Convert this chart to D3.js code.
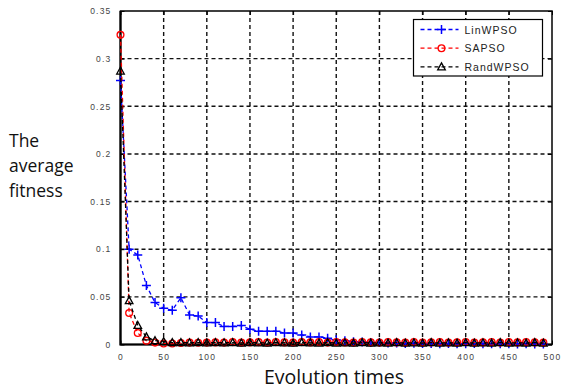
<!DOCTYPE html>
<html>
<head>
<meta charset="utf-8">
<script src="https://cdn.jsdelivr.net/npm/d3@7"></script>
<style>
  body { margin: 0; background: #fff; }
  svg { display: block; }
</style>
</head>
<body>
<svg id="chart" width="561" height="391"></svg>
<script>
const svg = d3.select("#chart");

// iterations (every 10th sample is plotted with a marker)
const iterations = d3.range(0, 500, 10);

const linWPSO = [0.277, 0.100, 0.094, 0.062, 0.044, 0.038, 0.036, 0.049, 0.031, 0.030,
                 0.023, 0.023, 0.019, 0.019, 0.020, 0.016, 0.014, 0.014, 0.014, 0.012,
                 0.012, 0.010, 0.008, 0.008, 0.0065, 0.005, 0.004, 0.003, 0.0025, 0.002,
                 0.002, 0.0015, 0.0015, 0.001, 0.0012, 0.001, 0.001, 0.0008, 0.001, 0.0008,
                 0.0008, 0.001, 0.0007, 0.0008, 0.0007, 0.0008, 0.0006, 0.0007, 0.0006, 0.0006];

const sapso = [0.325, 0.033, 0.012, 0.004, 0.002, 0.001, 0.001, 0.0015, 0.002, 0.0018,
               0.002, 0.0022, 0.002, 0.0025, 0.002, 0.0022, 0.0025, 0.002, 0.0025, 0.0022,
               0.002, 0.0025, 0.0022, 0.0025, 0.002, 0.0025, 0.0022, 0.002, 0.0025, 0.0022,
               0.002, 0.0025, 0.0022, 0.002, 0.0025, 0.002, 0.0022, 0.0025, 0.002, 0.0022,
               0.0025, 0.002, 0.0022, 0.0025, 0.002, 0.0025, 0.0022, 0.0025, 0.0022, 0.002];

const randWPSO = [0.287, 0.046, 0.020, 0.008, 0.004, 0.003, 0.002, 0.002, 0.0018, 0.002,
                  0.0018, 0.002, 0.0018, 0.002, 0.0015, 0.002, 0.0018, 0.0015, 0.002, 0.0018,
                  0.0015, 0.002, 0.0018, 0.0015, 0.002, 0.0015, 0.0018, 0.0015, 0.002, 0.0015,
                  0.0018, 0.0015, 0.002, 0.0015, 0.0018, 0.0015, 0.002, 0.0015, 0.0018, 0.0015,
                  0.002, 0.0015, 0.0018, 0.0015, 0.002, 0.0015, 0.0018, 0.0015, 0.002, 0.0015];

const seriesNames = ["LinWPSO", "SAPSO", "RandWPSO"];
const xTicks = d3.range(0, 501, 50);
const yTicks = [0, 0.05, 0.1, 0.15, 0.2, 0.25, 0.3, 0.35];

/*
/   Layout
*/

const plot = { left: 120.5, right: 552, top: 11, bottom: 344.5 };

const x = d3.scaleLinear().domain([0, 500]).range([plot.left, plot.right]);
const y = d3.scaleLinear().domain([0, 0.35]).range([plot.bottom, plot.top]);

const tickFont = "'Liberation Sans', Arial, sans-serif";
const labelFont = "'Open Sans', sans-serif";

/*
/   Grid
*/

const grid = svg.append("g");

grid.selectAll("line.vgrid")
    .data(xTicks.slice(1, -1))
    .join("line")
    .attr("x1", d => x(d)).attr("x2", d => x(d))
    .attr("y1", plot.top).attr("y2", plot.bottom)
    .attr("stroke", "#111")
    .attr("stroke-width", 1.4)
    .attr("stroke-dasharray", "4,3");

grid.selectAll("line.hgrid")
    .data(yTicks.slice(1, -1))
    .join("line")
    .attr("x1", plot.left).attr("x2", plot.right)
    .attr("y1", d => y(d)).attr("y2", d => y(d))
    .attr("stroke", "#111")
    .attr("stroke-width", 1.4)
    .attr("stroke-dasharray", "4,3");

/*
/   Axes
*/

const xAxis = svg.append("g")
    .attr("transform", `translate(0,${plot.bottom})`)
    .call(d3.axisBottom(x).tickValues(xTicks).tickSize(-4).tickPadding(9).tickFormat(d3.format("d")));

const yAxis = svg.append("g")
    .attr("transform", `translate(${plot.left},0)`)
    .call(d3.axisLeft(y).tickValues(yTicks).tickSize(-4).tickPadding(9).tickFormat(d => d === 0 ? "0" : String(+d.toFixed(2))));

const xAxisTop = svg.append("g")
    .attr("transform", `translate(0,${plot.top})`)
    .call(d3.axisTop(x).tickValues(xTicks).tickSize(-4).tickFormat(""));

const yAxisRight = svg.append("g")
    .attr("transform", `translate(${plot.right},0)`)
    .call(d3.axisRight(y).tickValues(yTicks).tickSize(-4).tickFormat(""));

[xAxis, yAxis, xAxisTop, yAxisRight].forEach(a => {
    a.select(".domain").remove();
    a.selectAll(".tick line").attr("stroke", "#000").attr("stroke-width", 1);
    a.selectAll("text")
        .attr("font-family", tickFont)
        .attr("font-size", 8.5)
        .attr("letter-spacing", 1.2)
        .attr("fill", "#444");
});

// plot box
svg.append("rect")
    .attr("x", plot.left).attr("y", plot.top)
    .attr("width", plot.right - plot.left)
    .attr("height", plot.bottom - plot.top)
    .attr("fill", "none")
    .attr("stroke", "#000")
    .attr("stroke-width", 1.5);

svg.append("path")
    .attr("d", `M${plot.left},${plot.top}V${plot.bottom}H${plot.right}`)
    .attr("fill", "none")
    .attr("stroke", "#000")
    .attr("stroke-width", 2.2);

/*
/   Series
*/

const series = [
    { name: seriesNames[0], values: linWPSO, color: "#0000ff", marker: "plus" },
    { name: seriesNames[1], values: sapso, color: "#ff0000", marker: "circle" },
    { name: seriesNames[2], values: randWPSO, color: "#000000", marker: "triangle" }
];

function drawMarker(g, type, color) {
    if (type === "plus") {
        g.append("path").attr("d", "M-4.5,0H4.5M0,-4.5V4.5")
            .attr("stroke", color).attr("stroke-width", 1.5).attr("fill", "none");
    } else if (type === "circle") {
        g.append("circle").attr("r", 3.4)
            .attr("stroke", color).attr("stroke-width", 1.3).attr("fill", "none");
    } else {
        g.append("path").attr("d", "M0,-4L3.8,3H-3.8Z")
            .attr("stroke", color).attr("stroke-width", 1.3).attr("fill", "none");
    }
}

const line = d3.line()
    .x((d, i) => x(iterations[i]))
    .y(d => y(d));

series.forEach(s => {
    const g = svg.append("g");

    g.append("path")
        .datum(s.values)
        .attr("d", line)
        .attr("fill", "none")
        .attr("stroke", s.color)
        .attr("stroke-width", 1.3)
        .attr("stroke-dasharray", "4,3");

    s.values.forEach((v, i) => {
        const m = g.append("g").attr("transform", `translate(${x(iterations[i])},${y(v)})`);
        drawMarker(m, s.marker, s.color);
    });
});

/*
/   Legend
*/

const legend = svg.append("g").attr("transform", "translate(413.5,19.5)");

legend.append("rect")
    .attr("width", 129).attr("height", 56.5)
    .attr("fill", "#fff")
    .attr("stroke", "#000")
    .attr("stroke-width", 1.2);

series.forEach((s, i) => {
    const row = legend.append("g").attr("transform", `translate(0,${10 + i * 18.7})`);

    row.append("line")
        .attr("x1", 7).attr("x2", 45)
        .attr("stroke", s.color)
        .attr("stroke-width", 1.3)
        .attr("stroke-dasharray", "4,3");

    drawMarker(row.append("g").attr("transform", "translate(28,0)"), s.marker, s.color);

    row.append("text")
        .attr("x", 51).attr("y", 4)
        .attr("font-family", tickFont)
        .attr("font-size", 10.5)
        .attr("letter-spacing", 1)
        .attr("fill", "#222")
        .text(s.name);
});

/*
/   Axis labels
*/

const yLabel = svg.append("text")
    .attr("font-family", labelFont)
    .attr("font-size", 17.5)
    .attr("fill", "#111");

["The", "average", "fitness"].forEach((t, i) => {
    yLabel.append("tspan").attr("x", 9).attr("y", 147 + i * 25).text(t);
});

svg.append("text")
    .attr("x", 334).attr("y", 384)
    .attr("text-anchor", "middle")
    .attr("font-family", labelFont)
    .attr("font-size", 19.5)
    .attr("fill", "#111")
    .text("Evolution times");
</script>
</body>
</html>
